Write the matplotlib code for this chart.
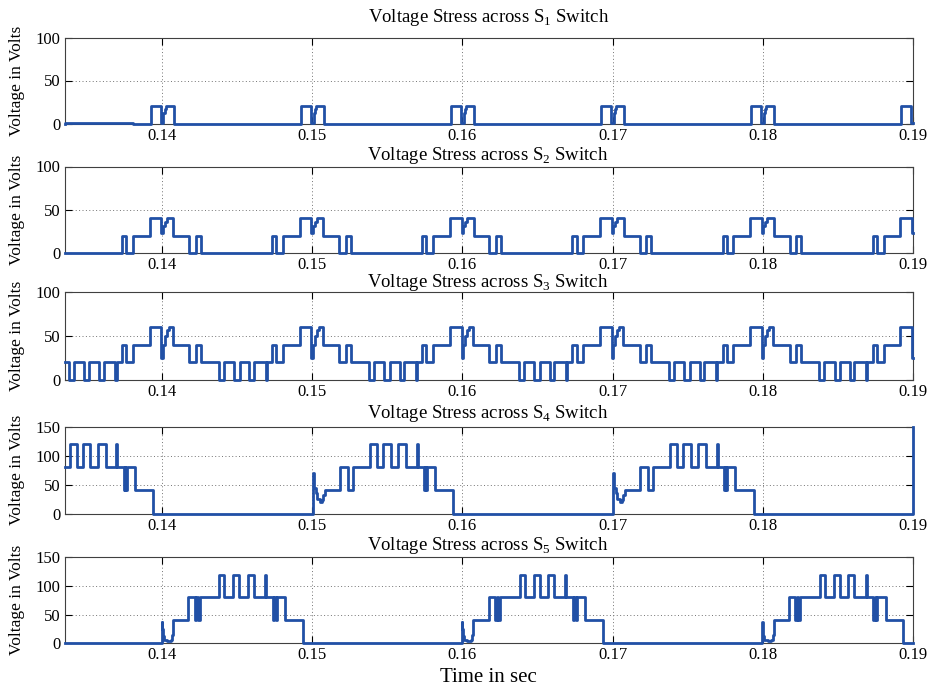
import numpy as np
import matplotlib
matplotlib.use("Agg")
import matplotlib.pyplot as plt

plt.rcParams["font.family"] = ["Liberation Serif", "DejaVu Serif"]
plt.rcParams["mathtext.fontset"] = "custom"
plt.rcParams["mathtext.rm"] = "Liberation Serif"

LINE_COLOR = "#2150a6"
T_START = 0.1335
T_END = 0.19

# zero crossings (s): S1-S3 repeat every half cycle, S4/S5 once per cycle
half_cycle_starts = [0.13, 0.14, 0.15, 0.16, 0.17, 0.18, 0.19]
s4_cycle_starts = [0.13, 0.15, 0.17]
s5_cycle_starts = [0.12, 0.14, 0.16, 0.18]

# switching instants (ms after the zero crossing) and the level after each one
s1_ms = [-0.78, -0.09, 0.08, 0.15, 0.25, 0.78]
s1_v = [20, 1, 12, 17, 20, 0]

s2_ms = [-2.67, -2.40, -1.94, -0.82, -0.06, 0.05, 0.15, 0.30, 0.74, 1.80, 2.23, 2.58]
s2_v = [20, 0, 20, 40, 23, 31, 36, 40, 20, 0, 20, 0]

s3_ms = [-6.21, -5.88, -5.21, -4.85, -4.19, -3.88, -3.12, -3.03, -2.67, -2.40,
         -1.94, -0.82, -0.06, 0.05, 0.15, 0.30, 0.45, 0.70, 1.80, 2.23, 2.58]
s3_v = [0, 20, 0, 20, 0, 20, 0, 20, 40, 20,
        40, 60, 25, 40, 50, 57, 60, 40, 20, 40, 20]

s4_ms = [0.04, 0.13, 0.22, 0.33, 0.49, 0.62, 0.73, 0.82, 1.83, 2.38, 2.72, 3.83,
         4.32, 4.72, 5.21, 5.72, 6.24, 6.95, 7.01, 7.44, 7.50, 7.55, 7.62, 8.17, 9.40]
s4_v = [70, 45, 35, 25, 20, 24, 32, 40, 80, 40, 80, 120,
        80, 120, 80, 120, 80, 120, 80, 40, 80, 40, 80, 40, 0]

s5_ms = [-0.05, 0.00, 0.05, 0.11, 0.33, 0.56, 0.67, 0.73, 1.74, 2.18, 2.27, 2.36,
         2.52, 3.81, 4.14, 4.74, 5.14, 5.70, 6.08, 6.86, 6.93, 7.37, 7.46, 7.55,
         7.64, 8.19, 9.38]
s5_v = [37, 25, 12, 6, 4, 6, 15, 40, 80, 40, 80, 40,
        80, 120, 80, 120, 80, 120, 80, 120, 80, 40, 80, 40,
        80, 40, 0]

# one-off events seen in the record (time s, level)
s1_extra = [(T_START, 0.8), (0.13806, 0)]
s4_extra = [(T_END, 150)]

titles = ["Voltage Stress across S$_{1}$ Switch",
          "Voltage Stress across S$_{2}$ Switch",
          "Voltage Stress across S$_{3}$ Switch",
          "Voltage Stress across S$_{4}$ Switch",
          "Voltage Stress across S$_{5}$ Switch"]
y_tops = [100, 100, 100, 150, 150]
x_ticks = [0.14, 0.15, 0.16, 0.17, 0.18, 0.19]


def build_trace(starts, offs_ms, levels, extra=()):
    t = np.concatenate([c + np.asarray(offs_ms) / 1000.0 for c in starts])
    v = np.tile(np.asarray(levels, dtype=float), len(starts))
    if extra:
        t = np.concatenate([t, [e[0] for e in extra]])
        v = np.concatenate([v, [e[1] for e in extra]])
    order = np.argsort(t, kind="stable")
    t, v = t[order], v[order]
    before = v[t < T_START]
    lvl0 = before[-1] if len(before) else 0.0
    keep = (t >= T_START) & (t <= T_END)
    t, v = t[keep], v[keep]
    tt = np.concatenate([[T_START], t, [T_END]])
    vv = np.concatenate([[lvl0], v, [v[-1] if len(v) else lvl0]])
    return tt, vv


traces = [
    build_trace(half_cycle_starts, s1_ms, s1_v, s1_extra),
    build_trace(half_cycle_starts, s2_ms, s2_v),
    build_trace(half_cycle_starts, s3_ms, s3_v),
    build_trace(s4_cycle_starts, s4_ms, s4_v, s4_extra),
    build_trace(s5_cycle_starts, s5_ms, s5_v),
]

W, H = 935, 688
fig = plt.figure(figsize=(W / 100, H / 100), dpi=100)

left, right = 64.7, 912.7
tops = [37.5, 166.5, 292.0, 427.0, 557.3]
bottoms = [123.5, 253.0, 379.5, 513.5, 643.3]
# title centres in pixels (x, y from top)
title_pos = [(489, 17), (488, 155), (488, 282.5), (488, 414), (488, 546)]

for i in range(5):
    ax = fig.add_axes([left / W, 1 - bottoms[i] / H, (right - left) / W,
                       (bottoms[i] - tops[i]) / H])
    t, v = traces[i]
    ax.plot(t, v, drawstyle="steps-post", color=LINE_COLOR, linewidth=2.0,
            clip_on=False, zorder=3)
    ax.set_xlim(T_START, T_END)
    ax.set_ylim(0, y_tops[i])
    ax.set_xticks(x_ticks)
    ax.set_xticklabels(["%.2f" % x for x in x_ticks])
    ax.set_yticks(np.arange(0, y_tops[i] + 1, 50))
    ax.tick_params(direction="in", top=True, right=True, labelsize=12,
                   length=5, width=0.8, pad=3)
    ax.grid(True, linestyle=(0, (1, 2.5)), color="0.45", linewidth=0.7)
    for sp in ax.spines.values():
        sp.set_linewidth(0.8)
        sp.set_color("0.25")
    fig.text(title_pos[i][0] / W, 1 - title_pos[i][1] / H, titles[i],
             fontsize=13.5, ha="center", va="center")
    ax.set_ylabel("Voltage in Volts", fontsize=12.5)
    ax.yaxis.set_label_coords((25 - left) / (right - left), 0.5)

fig.text(488 / W, 1 - 677 / H, "Time in sec", fontsize=15,
         ha="center", va="center")

fig.savefig("out.png", dpi=100)
